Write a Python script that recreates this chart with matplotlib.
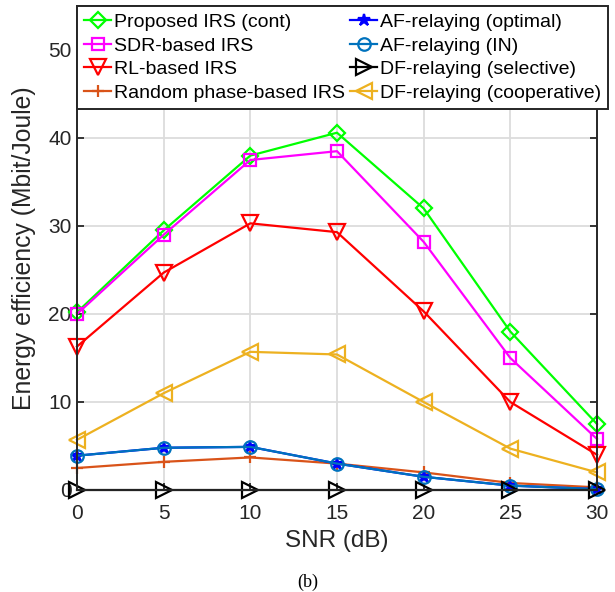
import numpy as np
import matplotlib
matplotlib.use("Agg")
import matplotlib.pyplot as plt

plt.rcParams['font.family'] = ['Liberation Sans', 'DejaVu Sans']

# SNR axis and energy efficiency values (Mbit/Joule)
snr_db = [0, 5, 10, 15, 20, 25, 30]
proposed_irs = [20.2, 29.5, 38.0, 40.6, 32.0, 18.0, 7.5]
sdr_irs = [20.0, 29.0, 37.5, 38.5, 28.2, 15.0, 5.8]
rl_irs = [16.3, 24.7, 30.3, 29.3, 20.3, 10.0, 4.0]
random_irs = [2.5, 3.2, 3.7, 3.0, 2.0, 0.8, 0.3]
af_optimal = [3.9, 4.8, 4.9, 3.0, 1.5, 0.5, 0.1]
af_in = [3.9, 4.8, 4.9, 3.0, 1.5, 0.5, 0.1]
df_selective = [0, 0, 0, 0, 0, 0, 0]
df_cooperative = [5.7, 11.0, 15.7, 15.4, 10.0, 4.7, 2.0]

series = [
    ("Proposed IRS (cont)", proposed_irs, "#00FF00", "D"),
    ("SDR-based IRS", sdr_irs, "#FF00FF", "s"),
    ("RL-based IRS", rl_irs, "#FF0000", "v"),
    ("Random phase-based IRS", random_irs, "#D95319", "+"),
    ("AF-relaying (optimal)", af_optimal, "#0000FF", "*"),
    ("AF-relaying (IN)", af_in, "#0072BD", "o"),
    ("DF-relaying (selective)", df_selective, "#000000", ">"),
    ("DF-relaying (cooperative)", df_cooperative, "#EDB120", "<"),
]

fig = plt.figure(figsize=(6.15, 5.92), dpi=100)
ax = fig.add_axes([0.1252, 0.1723, 0.8455, 0.8176])

for label, vals, col, mk in series:
    ms = 11 if mk in ("v", ">", "<") else 9
    if mk == "D":
        ms = 8
    fill = "full" if mk in ("*", "+") else "none"
    ax.plot(snr_db, vals, color=col, marker=mk, markersize=ms, fillstyle=fill,
            markeredgewidth=1.6, linewidth=1.6, label=label, clip_on=False)

ax.set_xlim(0, 30)
ax.set_ylim(0, 55)
ax.set_xticks(snr_db)
ax.set_yticks([0, 10, 20, 30, 40, 50])
ax.grid(True, color="#dcdcdc", linewidth=1.3)
ax.set_axisbelow(True)
ax.tick_params(direction="in", length=5, width=1.3, labelsize=15, colors="#262626",
               right=True, top=True, pad=4)
ax.tick_params(axis="x", pad=10)
for sp in ax.spines.values():
    sp.set_color("#262626")
    sp.set_linewidth(1.4)

ax.set_xlabel("SNR (dB)", fontsize=17.5, color="#262626", labelpad=5)
ax.set_ylabel("Energy efficiency (Mbit/Joule)", fontsize=17.8, color="#262626", labelpad=9)

leg = fig.legend(ncol=2, loc="upper left", bbox_to_anchor=(0.1252, 0.99), fontsize=14,
                 frameon=True, fancybox=False, edgecolor="#262626", framealpha=1,
                 handlelength=1.35, handletextpad=0.15, columnspacing=0.3,
                 labelspacing=0.31, borderpad=0.38, borderaxespad=0)
leg.get_frame().set_linewidth(1.4)

fig.text(0.5, 0.017, "(b)", fontsize=13, family="Liberation Serif", ha="center", va="center")

fig.savefig("out.png", dpi=100)
